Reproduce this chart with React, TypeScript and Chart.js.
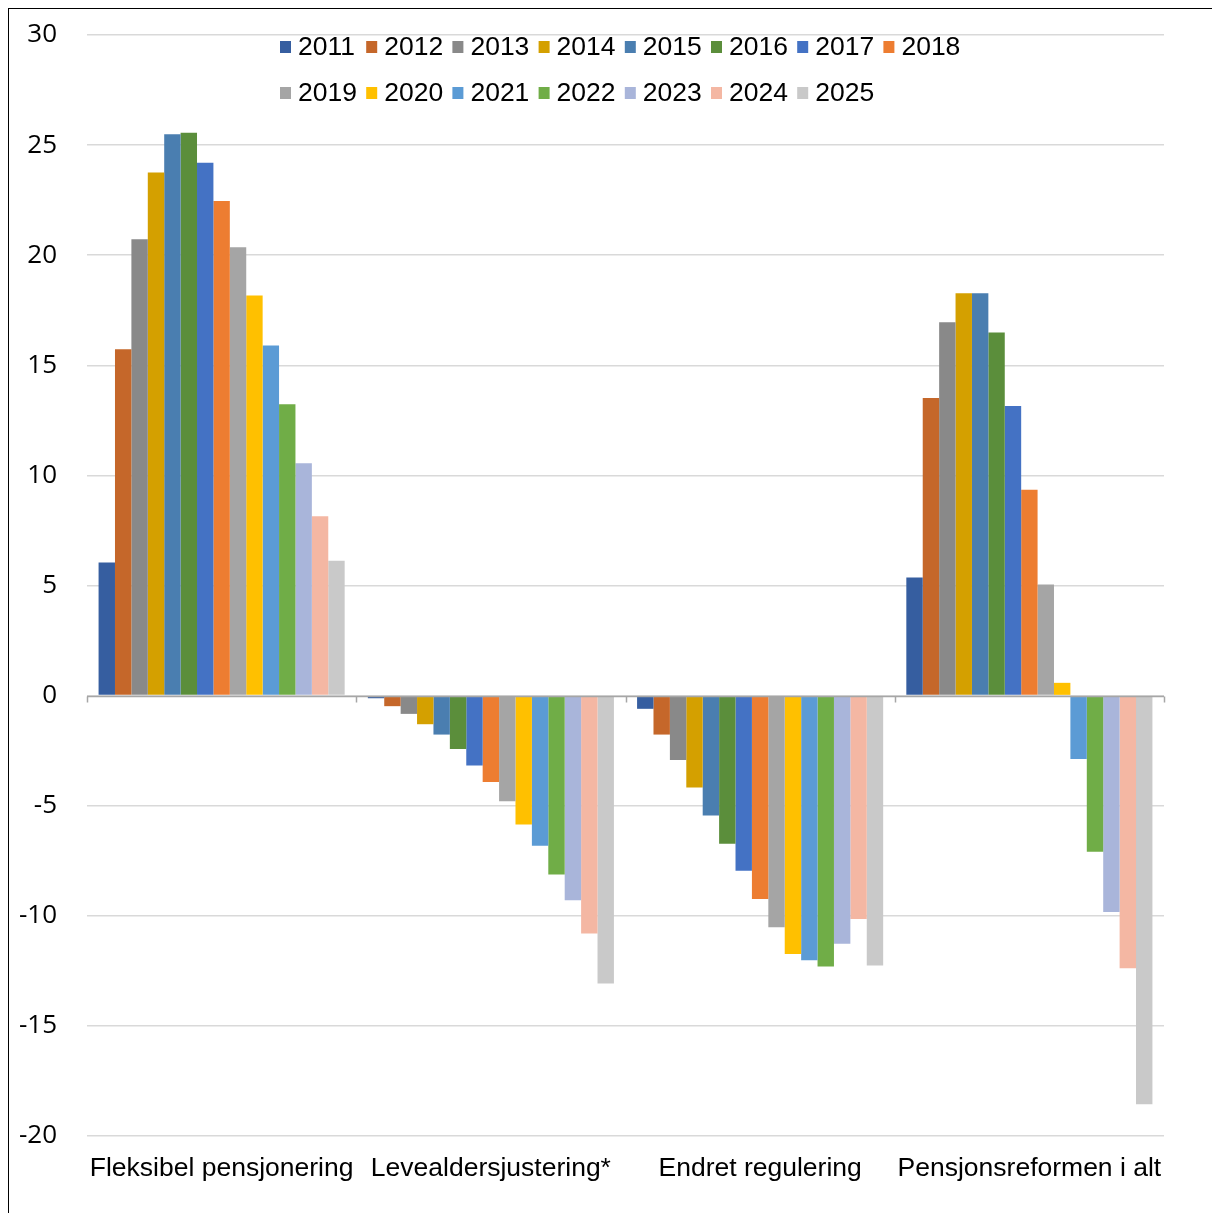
import React, { useEffect, useRef } from "react";
import { Chart, registerables } from "chart.js";

Chart.register(...registerables);

const categories = [
  "Fleksibel pensjonering",
  "Levealdersjustering*",
  "Endret regulering",
  "Pensjonsreformen i alt",
];

const years = [
  "2011", "2012", "2013", "2014", "2015", "2016", "2017", "2018",
  "2019", "2020", "2021", "2022", "2023", "2024", "2025",
];

const yearColors = [
  "#365EA0", "#C5672A", "#898989", "#D4A000", "#4A7EB0", "#5B8E3B", "#4472C4", "#ED7D31",
  "#A5A5A5", "#FFC000", "#5B9BD5", "#70AD47", "#A9B5DA", "#F4B7A3", "#C9C9C9",
];

const fleksibelPensjonering = [6.05, 15.73, 20.72, 23.76, 25.49, 25.56, 24.2, 22.46, 20.36, 18.17, 15.9, 13.23, 10.55, 8.15, 6.12];
const levealdersjustering = [-0.12, -0.48, -0.83, -1.3, -1.77, -2.42, -3.18, -3.92, -4.8, -5.85, -6.82, -8.12, -9.29, -10.8, -13.08];
const endretRegulering = [-0.6, -1.77, -2.92, -4.17, -5.44, -6.73, -7.95, -9.24, -10.52, -11.74, -12.02, -12.3, -11.27, -10.15, -12.26];
const pensjonsreformenIAlt = [5.36, 13.51, 16.95, 18.27, 18.27, 16.49, 13.15, 9.35, 5.05, 0.58, -2.88, -7.09, -9.83, -12.38, -18.56];

const yMin = -20;
const yMax = 30;
const yStep = 5;

const ARIAL = '"Liberation Sans", Arial, sans-serif';
const TICKFONT = '"Open Sans", "Liberation Sans", sans-serif';

const legendPlugin = {
  id: "excelLegend",
  afterDraw(chart: any) {
    const { ctx, chartArea } = chart;
    ctx.save();
    ctx.font = `26.5px ${ARIAL}`;
    ctx.textBaseline = "middle";
    ctx.textAlign = "left";
    const perRow = 8;
    const itemW = 86.2;
    const startX = chartArea.left + 193;
    const rowY = [chartArea.top + 12, chartArea.top + 58];
    chart.data.datasets.forEach((ds: any, i: number) => {
      const r = Math.floor(i / perRow);
      const c = i % perRow;
      const x = startX + c * itemW;
      const y = rowY[r];
      ctx.fillStyle = ds.backgroundColor;
      ctx.fillRect(x, y - 6, 11, 12);
      ctx.fillStyle = "#000";
      ctx.fillText(ds.label, x + 18, y + 1);
    });
    ctx.restore();
  },
};

const zeroAxisPlugin = {
  id: "zeroAxis",
  afterDatasetsDraw(chart: any) {
    const { ctx, chartArea } = chart;
    const y0 = Math.round(chart.scales.y.getPixelForValue(0)) + 0.5;
    const n = chart.data.labels.length;
    ctx.save();
    ctx.strokeStyle = "#a6a6a6";
    ctx.lineWidth = 1.5;
    ctx.beginPath();
    ctx.moveTo(chartArea.left, y0);
    ctx.lineTo(chartArea.right, y0);
    for (let i = 0; i <= n; i++) {
      const x = Math.round(chartArea.left + (i * chartArea.width) / n) + 0.5;
      ctx.moveTo(x, y0);
      ctx.lineTo(x, y0 + 6);
    }
    ctx.stroke();
    ctx.restore();
  },
};

export default function App() {
  const canvasRef = useRef<HTMLCanvasElement | null>(null);

  useEffect(() => {
    document.documentElement.style.overflow = "hidden";
    if (!canvasRef.current) return;
    const series = [fleksibelPensjonering, levealdersjustering, endretRegulering, pensjonsreformenIAlt];
    const datasets = years.map((yr, i) => ({
      label: yr,
      data: series.map((s) => s[i]),
      backgroundColor: yearColors[i],
      borderWidth: 0,
      categoryPercentage: 0.914,
      barPercentage: 1.0,
    }));

    const chart = new Chart(canvasRef.current, {
      type: "bar",
      data: { labels: categories, datasets },
      options: {
        animation: false,
        responsive: false,
        maintainAspectRatio: false,
        layout: { padding: { left: 0, right: 56, top: 26, bottom: 27 } },
        plugins: {
          legend: { display: false },
          tooltip: { enabled: false },
          title: { display: false },
        },
        scales: {
          x: {
            grid: { display: false, drawTicks: false },
            border: { display: false },
            ticks: {
              autoSkip: false,
              maxRotation: 0,
              minRotation: 0,
              padding: 17,
              color: "#000",
              font: { family: ARIAL, size: 26.5 },
            },
            afterFit(scale: any) {
              scale.height = 50;
              scale.paddingLeft = 0;
              scale.paddingRight = 0;
            },
          },
          y: {
            min: yMin,
            max: yMax,
            ticks: {
              stepSize: yStep,
              padding: 30,
              color: "#000",
              font: { family: TICKFONT, size: 26 },
            },
            grid: { color: "#d9d9d9", lineWidth: 1.5, drawTicks: false },
            border: { display: false },
            afterFit(scale: any) {
              scale.width = 78;
              scale.paddingTop = 0;
              scale.paddingBottom = 0;
            },
          },
        },
      },
      plugins: [zeroAxisPlugin, legendPlugin],
    });
    return () => chart.destroy();
  }, []);

  return (
    <div
      style={{
        borderTop: "1px solid #000",
        borderLeft: "1px solid #000",
        width: 1211,
        height: 1204,
        background: "#fff",
      }}
    >
      <canvas ref={canvasRef} width={1211} height={1204} style={{ display: "block" }} />
    </div>
  );
}
